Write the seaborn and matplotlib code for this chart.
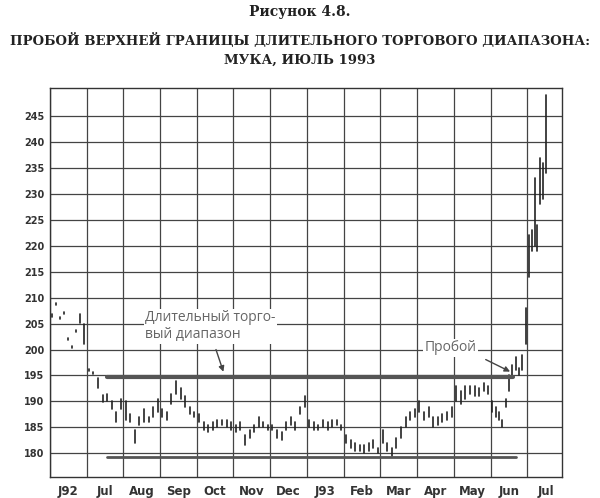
import matplotlib
matplotlib.use("Agg")
import matplotlib.pyplot as plt
import seaborn as sns
import pandas as pd
import numpy as np

months = ["J92", "Jul", "Aug", "Sep", "Oct", "Nov", "Dec", "J93", "Feb", "Mar", "Apr", "May", "Jun", "Jul"]

# (low, high) price bars per month interval
bars_by_month = [
    [(206.3,206.8),(208.5,209),(205.8,206.3),(206.8,207.2),(201.8,202.2),(200.2,200.6),(203.3,203.8),(205.2,206.8),(201,205)],
    [(195.8,196.3),(195.3,195.7),(192.5,194.5),(189.8,191.2),(190,191.5),(188.5,190),(186,188),(188.5,190.5)],
    [(186.5,190),(186,187.5),(182,184.5),(185.5,187),(186,188.5),(186,187),(187,189),(188,190.5)],
    [(187,188.5),(186.5,188),(189.5,191.5),(191.5,194),(190.5,192.5),(189,191),(187.5,189),(187,188)],
    [(186,187.5),(184.5,186),(184,185.5),(184.5,186),(185,186.5),(185.5,186.5),(185,186.5),(184.5,186)],
    [(184,185.5),(184.5,186),(181.5,183.5),(183,184.5),(184,185.5),(185,187),(185,186),(184.5,185.5)],
    [(184.5,185.5),(183,184.5),(182.5,184),(184.5,186),(185.5,187),(184.5,186),(187.5,189),(189,191)],
    [(185,186.5),(184.5,186),(184.5,185.5),(185,186.5),(184.5,186),(185,186.5),(185.5,186.5),(184.5,185.5)],
    [(182,183.5),(181,182.5),(180.5,182),(180.5,181.5),(180,181.5),(180.5,182),(181,182.5),(180,181)],
    [(182,184.5),(180.5,182),(179.5,181),(181,183),(183,185),(185,187),(186.5,188),(187,188.5)],
    [(188,190),(186.5,188),(187,189),(185,187),(185.5,187),(186,187.5),(186.5,188),(187,189)],
    [(190,193),(189.5,192),(190.5,193),(191.5,193),(191,193),(191,192.5),(192,193.5),(191.5,193)],
    [(188,190),(187,189),(186.5,188),(185,186.5),(189,190.5),(192,195),(195,197),(196,198.5),(195,196.5),(196,199),(201,208)],
    [(214,222),(219,223),(220,233),(219,224),(228,237),(229,236),(234,249)],
]
month_fill = [1.0]*13 + [0.55]

range_top = 194.7
range_bottom = 179.2

rows = []
bid = 0
for m, bars in enumerate(bars_by_month):
    n = len(bars)
    for k, (lo, hi) in enumerate(bars):
        x = m + month_fill[m] * (k + 0.5) / n
        rows.append({"x": x, "price": lo, "bar": bid})
        rows.append({"x": x, "price": hi, "bar": bid})
        bid += 1
df = pd.DataFrame(rows)

sns.set_style("white")
fig = plt.figure(figsize=(6, 4.98), dpi=100)
ax = fig.add_axes([0.083, 0.042, 0.854, 0.781])

for v in range(180, 250, 5):
    ax.axhline(v, color="#444", lw=0.9, zorder=0)
for m in range(0, 15):
    ax.axvline(m, color="#444", lw=0.9, zorder=0)

sns.lineplot(data=df, x="x", y="price", units="bar", estimator=None,
             color="#222", lw=1.2, ax=ax, legend=False)

ax.plot([1.55, 12.6], [range_top, range_top], color="#555", lw=3)
ax.plot([1.55, 12.7], [range_bottom, range_bottom], color="#555", lw=2)

ax.set_xlim(0, 13.95)
ax.set_ylim(175.4, 250.4)
ax.set_yticks(range(180, 250, 5))
ax.set_yticklabels([str(v) for v in range(180, 250, 5)], fontsize=7, fontweight="bold", color="#333")
ax.set_xticks([m + 0.5 for m in range(14)])
ax.set_xticklabels(months, fontsize=8.5, fontweight="bold", color="#333")
ax.tick_params(axis="x", length=0, pad=6)
ax.tick_params(axis="y", length=0, pad=4)
ax.set_xticks(np.arange(0, 14, 0.25), minor=True)
ax.tick_params(axis="x", which="minor", length=4, direction="inout", color="#333")
ax.set_xlabel(""); ax.set_ylabel("")
for s in ax.spines.values():
    s.set_color("#333"); s.set_linewidth(1)

ax.text(2.6, 204.5, "Длительный торго-\nвый диапазон", fontsize=10, color="#666",
        family="Open Sans", va="center", linespacing=1.2,
        bbox=dict(facecolor="white", edgecolor="none", pad=1))
ax.annotate("", xy=(4.75, 195.2), xytext=(4.5, 200.5),
            arrowprops=dict(arrowstyle="-|>", color="#444", lw=1, mutation_scale=8))
ax.text(10.2, 200.3, "Пробой", fontsize=10, color="#666", family="Open Sans", va="center",
        bbox=dict(facecolor="white", edgecolor="none", pad=1))
ax.annotate("", xy=(12.6, 195.5), xytext=(11.8, 198.3),
            arrowprops=dict(arrowstyle="-|>", color="#444", lw=1, mutation_scale=8))

fig.text(0.5, 0.975, "Рисунок 4.8.", ha="center", va="center", fontsize=10,
         fontweight="bold", family="DejaVu Serif", color="#222")
fig.text(0.5, 0.918, "ПРОБОЙ ВЕРХНЕЙ ГРАНИЦЫ ДЛИТЕЛЬНОГО ТОРГОВОГО ДИАПАЗОНА:",
         ha="center", va="center", fontsize=9.5, fontweight="bold", family="DejaVu Serif", color="#222")
fig.text(0.5, 0.878, "МУКА, ИЮЛЬ 1993", ha="center", va="center", fontsize=9.5,
         fontweight="bold", family="DejaVu Serif", color="#222")

fig.savefig("out.png", dpi=100)
